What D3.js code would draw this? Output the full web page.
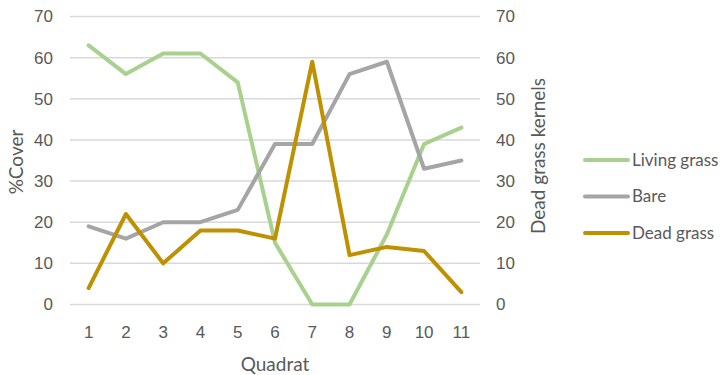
<!DOCTYPE html>
<html>
<head>
<meta charset="utf-8">
<script src="https://cdn.jsdelivr.net/npm/d3@7"></script>
<style>
  html, body { margin: 0; padding: 0; background: #fff; }
  svg { display: block; font-family: Lato, "Open Sans", sans-serif; }
</style>
</head>
<body>
<svg id="chart" width="721" height="375"></svg>
<script>
// Quadrat survey: cover per quadrat and dead grass kernels
const quadrats = ["1", "2", "3", "4", "5", "6", "7", "8", "9", "10", "11"];
const livingGrass = [63, 56, 61, 61, 54, 15, 0, 0, 17, 39, 43];
const bare = [19, 16, 20, 20, 23, 39, 39, 56, 59, 33, 35];
const deadGrass = [4, 22, 10, 18, 18, 16, 59, 12, 14, 13, 3];
const yTicks = [0, 10, 20, 30, 40, 50, 60, 70];
const seriesNames = ["Living grass", "Bare", "Dead grass"];
const seriesColors = ["#A9D18E", "#A5A5A5", "#BF9000"];

const series = [
  { name: seriesNames[0], values: livingGrass, color: seriesColors[0], axis: "left" },
  { name: seriesNames[1], values: bare, color: seriesColors[1], axis: "left" },
  { name: seriesNames[2], values: deadGrass, color: seriesColors[2], axis: "right" }
];

const svg = d3.select("#chart");
const plot = { left: 70, right: 480, top: 16.5, bottom: 304.5 };
const textColor = "#595959";
const tickFont = 17;
const titleFont = 19;

const x = d3.scaleBand().domain(quadrats).range([plot.left, plot.right]);
const yLeft = d3.scaleLinear().domain([0, 70]).range([plot.bottom, plot.top]);
const yRight = d3.scaleLinear().domain([0, 70]).range([plot.bottom, plot.top]);

// Horizontal gridlines
svg.append("g")
  .selectAll("line")
  .data(yTicks)
  .join("line")
  .attr("x1", plot.left).attr("x2", plot.right)
  .attr("y1", d => yLeft(d)).attr("y2", d => yLeft(d))
  .attr("stroke", "#D9D9D9").attr("stroke-width", 1.5);

// Left axis
const leftAxis = svg.append("g")
  .attr("transform", `translate(${plot.left - 17},0)`)
  .call(d3.axisLeft(yLeft).tickValues(yTicks).tickSize(0).tickPadding(0));
leftAxis.select(".domain").remove();
leftAxis.selectAll("text").attr("fill", textColor).attr("font-size", tickFont);

// Right axis
const rightAxis = svg.append("g")
  .attr("transform", `translate(${plot.right + 16},0)`)
  .call(d3.axisRight(yRight).tickValues(yTicks).tickSize(0).tickPadding(0));
rightAxis.select(".domain").remove();
rightAxis.selectAll("text").attr("fill", textColor).attr("font-size", tickFont);

// Bottom axis
const bottomAxis = svg.append("g")
  .attr("transform", `translate(0,${plot.bottom + 21.5})`)
  .call(d3.axisBottom(x).tickSize(0).tickPadding(0));
bottomAxis.select(".domain").remove();
bottomAxis.selectAll("text").attr("fill", textColor).attr("font-size", tickFont);

// Axis titles
svg.append("text")
  .attr("transform", "translate(23,162) rotate(-90)")
  .attr("text-anchor", "middle")
  .attr("fill", textColor).attr("font-size", titleFont)
  .text("%Cover");
svg.append("text")
  .attr("transform", "translate(545,156) rotate(-90)")
  .attr("text-anchor", "middle")
  .attr("fill", textColor).attr("font-size", titleFont)
  .text("Dead grass kernels");
svg.append("text")
  .attr("x", (plot.left + plot.right) / 2).attr("y", 371)
  .attr("text-anchor", "middle")
  .attr("fill", textColor).attr("font-size", titleFont)
  .text("Quadrat");

// Series lines
series.forEach(s => {
  const yScale = s.axis === "left" ? yLeft : yRight;
  const line = d3.line()
    .x((d, i) => x(quadrats[i]) + x.bandwidth() / 2)
    .y(d => yScale(d));
  svg.append("path")
    .datum(s.values)
    .attr("d", line)
    .attr("fill", "none")
    .attr("stroke", s.color)
    .attr("stroke-width", 4)
    .attr("stroke-linejoin", "round")
    .attr("stroke-linecap", "round");
});

// Legend
const legend = svg.append("g").attr("transform", "translate(585,160)");
const items = legend.selectAll("g")
  .data(series)
  .join("g")
  .attr("transform", (d, i) => `translate(0,${i * 36.5})`);
items.append("line")
  .attr("x1", 0).attr("x2", 43)
  .attr("stroke", d => d.color)
  .attr("stroke-width", 4)
  .attr("stroke-linecap", "round");
items.append("text")
  .attr("x", 47).attr("dy", "0.35em")
  .attr("fill", textColor).attr("font-size", tickFont)
  .text(d => d.name);
</script>
</body>
</html>
